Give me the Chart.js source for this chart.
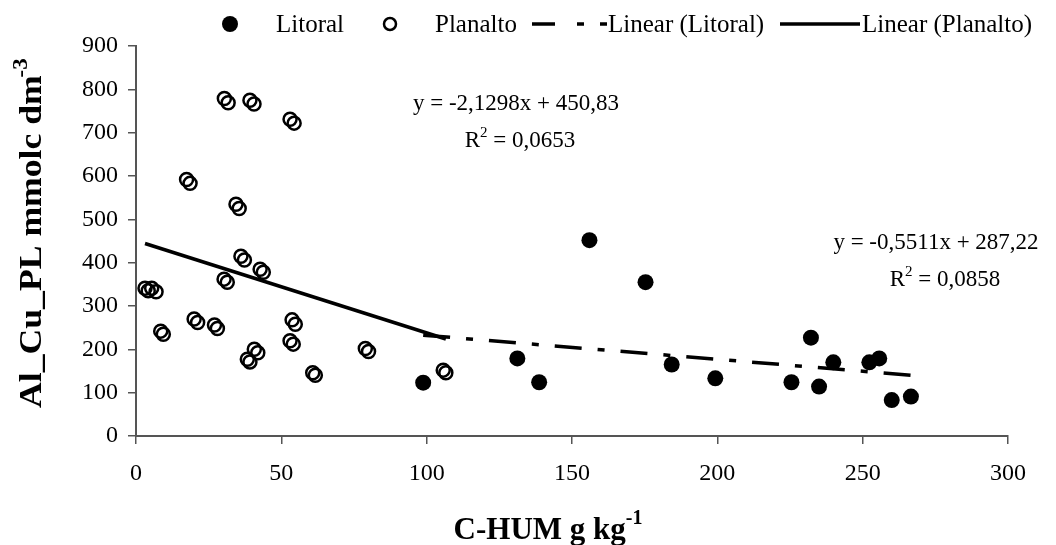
<!DOCTYPE html>
<html>
<head>
<meta charset="utf-8">
<script src="https://cdn.jsdelivr.net/npm/chart.js@4"></script>
<style>
  html, body { margin: 0; padding: 0; background: #ffffff; }
  #wrap { width: 1056px; height: 545px; }
</style>
</head>
<body>
<div id="wrap"><canvas id="humChart" width="1056" height="545"></canvas></div>
<script>
// Litoral (filled)
const litoralX = [98.8, 131.2, 138.7, 156.0, 175.3, 184.3, 199.3, 225.5, 232.2, 235.0, 239.9, 252.3, 255.7, 260.0, 266.6];
const litoralY = [123, 179, 124, 452, 355, 165, 133, 124, 227, 114, 170, 170, 179, 83, 91];

// Planalto (open) - points come in close pairs
const planaltoX = [30.4, 31.7, 39.2, 40.6, 53.0, 54.4, 17.4, 18.6, 34.4, 35.5,
                   3.1, 4.2, 5.4, 6.9, 8.5, 9.4, 20.0, 21.2, 27.0, 28.0,
                   30.3, 31.4, 36.1, 37.3, 42.7, 43.8, 53.7, 54.8, 53.0, 54.1,
                   38.3, 39.2, 40.7, 41.9, 60.8, 61.7, 78.9, 80.0, 105.7, 106.6];
const planaltoY = [779, 769, 775, 766, 731, 722, 592, 583, 535, 525,
                   341, 335, 341, 333, 242, 235, 270, 262, 256, 248,
                   362, 355, 415, 406, 385, 378, 268, 258, 220, 212,
                   177, 171, 200, 192, 146, 140, 202, 195, 152, 146];

// trend lines as printed on the chart
const litoralFit = { slope: -0.5511, intercept: 287.22, label: 'y = -0,5511x + 287,22', r2: '0,0858' };
const planaltoFit = { slope: -2.1298, intercept: 450.83, label: 'y = -2,1298x + 450,83', r2: '0,0653' };

const serif = '"Liberation Serif", "Times New Roman", serif';

function toPoints(xs, ys) {
    return xs.map(function(x, i) { return { x: x, y: ys[i] }; });
}

function fitLine(fit, xs) {
    const lo = Math.min.apply(null, xs);
    const hi = Math.max.apply(null, xs);
    return [
        { x: lo, y: fit.slope * lo + fit.intercept },
        { x: hi, y: fit.slope * hi + fit.intercept }
    ];
}

// titles, equations and legend drawn by hand (superscripts)
const textPlugin = {
    id: 'textPlugin',
    afterDraw: function(chart) {
        const ctx = chart.ctx;
        ctx.save();
        ctx.fillStyle = '#000';
        ctx.textBaseline = 'alphabetic';

        // y title (a bit stretched along its length, like the original)
        ctx.save();
        ctx.font = 'bold 31px ' + serif;
        const yMain = 'Al_Cu_PL mmolc dm';
        const w1 = ctx.measureText(yMain).width;
        ctx.font = 'bold 20px ' + serif;
        const w2 = ctx.measureText('-3').width;
        ctx.translate(41, 232);
        ctx.rotate(-Math.PI / 2);
        ctx.scale(1.15, 1);
        ctx.font = 'bold 31px ' + serif;
        ctx.textAlign = 'left';
        ctx.fillText(yMain, -(w1 + w2) / 2, 0);
        ctx.font = 'bold 20px ' + serif;
        ctx.fillText('-3', -(w1 + w2) / 2 + w1 - 2, -14);
        ctx.restore();

        // x title
        ctx.font = 'bold 31px ' + serif;
        const xMain = 'C-HUM g kg';
        const xw1 = ctx.measureText(xMain).width;
        ctx.font = 'bold 20px ' + serif;
        const xw2 = ctx.measureText('-1').width;
        const xs = 548 - (xw1 + xw2) / 2;
        ctx.textAlign = 'left';
        ctx.font = 'bold 31px ' + serif;
        ctx.fillText(xMain, xs, 539);
        ctx.font = 'bold 20px ' + serif;
        ctx.fillText('-1', xs + xw1, 524);

        // equations
        ctx.textAlign = 'center';
        ctx.font = '23px ' + serif;
        ctx.fillText(planaltoFit.label, 516, 110);
        drawR2(ctx, planaltoFit.r2, 520, 147);
        ctx.font = '23px ' + serif;
        ctx.fillText(litoralFit.label, 936, 249);
        drawR2(ctx, litoralFit.r2, 945, 286);

        // legend
        ctx.textAlign = 'left';
        ctx.font = '25px ' + serif;
        ctx.beginPath();
        ctx.arc(230, 24, 8, 0, Math.PI * 2);
        ctx.fill();
        ctx.fillText('Litoral', 276, 32);
        ctx.beginPath();
        ctx.lineWidth = 2.5;
        ctx.strokeStyle = '#000';
        ctx.arc(390, 24, 6, 0, Math.PI * 2);
        ctx.stroke();
        ctx.fillText('Planalto', 435, 32);
        ctx.lineWidth = 3.5;
        ctx.setLineDash([23, 22, 7, 16, 7, 100]);
        ctx.beginPath();
        ctx.moveTo(532, 24);
        ctx.lineTo(607, 24);
        ctx.stroke();
        ctx.setLineDash([]);
        ctx.fillText('Linear (Litoral)', 608, 32);
        ctx.beginPath();
        ctx.moveTo(780, 24);
        ctx.lineTo(860, 24);
        ctx.stroke();
        ctx.fillText('Linear (Planalto)', 862, 32);

        ctx.restore();
    }
};

function drawR2(ctx, val, cx, y) {
    ctx.save();
    ctx.font = '23px ' + serif;
    const a = 'R';
    const b = ' = ' + val;
    const wa = ctx.measureText(a).width;
    const wb = ctx.measureText(b).width;
    ctx.font = '15px ' + serif;
    const ws = ctx.measureText('2').width;
    const x0 = cx - (wa + ws + wb) / 2;
    ctx.textAlign = 'left';
    ctx.font = '23px ' + serif;
    ctx.fillText(a, x0, y);
    ctx.font = '15px ' + serif;
    ctx.fillText('2', x0 + wa, y - 10);
    ctx.font = '23px ' + serif;
    ctx.fillText(b, x0 + wa + ws, y);
    ctx.restore();
}

document.addEventListener('DOMContentLoaded', function() {
    const ctx = document.getElementById('humChart').getContext('2d');

    const axisColor = '#555555';

    new Chart(ctx, {
        type: 'scatter',
        data: {
            datasets: [
                {
                    label: 'Litoral',
                    data: toPoints(litoralX, litoralY),
                    pointStyle: 'circle',
                    pointRadius: 8,
                    backgroundColor: '#000',
                    borderColor: '#000',
                    borderWidth: 0
                },
                {
                    label: 'Planalto',
                    data: toPoints(planaltoX, planaltoY),
                    pointStyle: 'circle',
                    pointRadius: 6.5,
                    backgroundColor: 'rgba(0,0,0,0)',
                    borderColor: '#000',
                    borderWidth: 2.5
                },
                {
                    label: 'Linear (Litoral)',
                    data: fitLine(litoralFit, litoralX),
                    showLine: true,
                    pointRadius: 0,
                    borderColor: '#000',
                    borderWidth: 3.5,
                    borderDash: [27, 16, 7, 16]
                },
                {
                    label: 'Linear (Planalto)',
                    data: fitLine(planaltoFit, planaltoX),
                    showLine: true,
                    pointRadius: 0,
                    borderColor: '#000',
                    borderWidth: 3.5
                }
            ]
        },
        options: {
            responsive: false,
            animation: false,
            layout: { padding: { left: 0, right: 48, top: 46, bottom: 0 } },
            plugins: {
                legend: { display: false },
                tooltip: { enabled: false }
            },
            scales: {
                x: {
                    type: 'linear',
                    min: 0,
                    max: 300,
                    afterFit: function(scale) { scale.height = 109; },
                    ticks: {
                        stepSize: 50,
                        color: '#000',
                        padding: 15,
                        maxRotation: 0,
                        font: { family: serif, size: 24 }
                    },
                    grid: {
                        drawOnChartArea: false,
                        drawTicks: true,
                        tickLength: 8,
                        color: axisColor,
                        lineWidth: 1.5
                    },
                    border: { display: true, color: axisColor, width: 2 }
                },
                y: {
                    min: 0,
                    max: 900,
                    afterFit: function(scale) { scale.width = 136; },
                    ticks: {
                        stepSize: 100,
                        color: '#000',
                        padding: 10,
                        font: { family: serif, size: 24 }
                    },
                    grid: {
                        drawOnChartArea: false,
                        drawTicks: true,
                        tickLength: 8,
                        color: axisColor,
                        lineWidth: 1.5
                    },
                    border: { display: true, color: axisColor, width: 2 }
                }
            }
        },
        plugins: [textPlugin]
    });
});
</script>
</body>
</html>
